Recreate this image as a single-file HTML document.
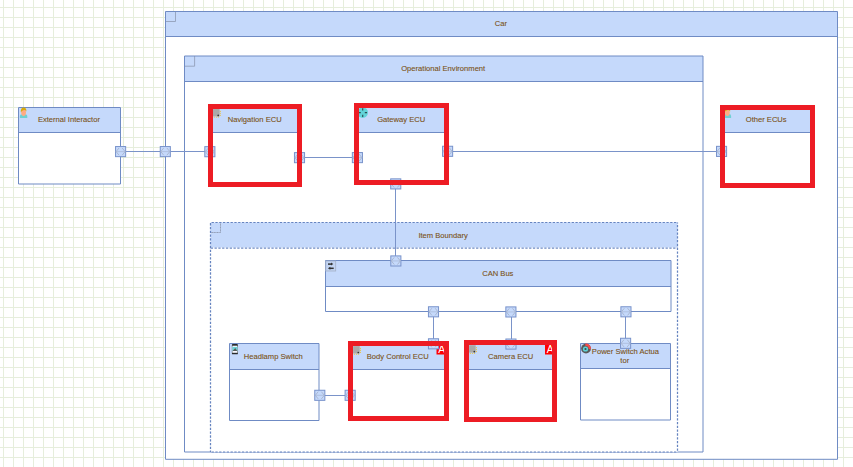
<!DOCTYPE html><html><head><meta charset="utf-8"><style>html,body{margin:0;padding:0;background:#fff;overflow:hidden}svg{display:block;font-family:"Liberation Sans",sans-serif}</style></head><body><svg width="853" height="467" viewBox="0 0 853 467" font-size="7.6" fill="#7a5216"><defs><pattern id="g" x="0" y="0" width="10" height="10" patternUnits="userSpaceOnUse"><rect x="3" y="0" width="1" height="10" fill="#e6eedc"/><rect x="0" y="7" width="10" height="1" fill="#e6eedc"/></pattern></defs><rect width="853" height="467" fill="#fff"/><rect width="853" height="467" fill="url(#g)"/><rect x="165.5" y="11.5" width="672.0" height="447.8" fill="#fff"/><rect x="165.5" y="11.5" width="672.0" height="25.0" fill="#c5d9fb"/><path d="M165.5 21.5H175.5V11.5" fill="none" stroke="#8d99b3" stroke-width="0.8"/><path d="M165.5 11.5H837.5V459.3H165.5Z" fill="none" stroke="#6f8bc4" stroke-width="1"/><path d="M165.5 36.5H837.5" stroke="#6f8bc4" stroke-width="1"/><text x="500.9" y="25.90" text-anchor="middle" stroke="#7a5216" stroke-width="0.18" stroke-opacity="0.6">Car</text><rect x="18.5" y="107.5" width="102.0" height="76.5" fill="#fff"/><rect x="18.5" y="107.5" width="102.0" height="25.0" fill="#c5d9fb"/><path d="M18.5 107.5H120.5V184H18.5Z" fill="none" stroke="#6f8bc4" stroke-width="1"/><path d="M18.5 132.5H120.5" stroke="#6f8bc4" stroke-width="1"/><text x="68.9" y="121.90" text-anchor="middle" stroke="#7a5216" stroke-width="0.18" stroke-opacity="0.6">External Interactor</text><path d="M19.9 118.0V116.0Q19.9 114.4 22.0 114.2H25.2Q27.3 114.4 27.3 116.0V118.0Z" fill="#6fd0d3"/><ellipse cx="23.6" cy="112.60000000000001" rx="2.4" ry="3.4" fill="#ffab82"/><path d="M20.8 112.2Q20.5 107.5 23.6 107.5Q26.6 107.5 26.4 111.60000000000001Q25.7 109.80000000000001 24.0 110.10000000000001Q22.1 110.4 20.8 112.2Z" fill="#d9a90a"/><rect x="184.5" y="56" width="518.5" height="396" fill="#fff"/><rect x="184.5" y="56" width="518.5" height="25.5" fill="#c5d9fb"/><path d="M184.5 66.2H194.6V56" fill="none" stroke="#8d99b3" stroke-width="0.8"/><path d="M184.5 56H703V452H184.5Z" fill="none" stroke="#6f8bc4" stroke-width="1"/><path d="M184.5 81.5H703" stroke="#6f8bc4" stroke-width="1"/><text x="443.2" y="70.70" text-anchor="middle" stroke="#7a5216" stroke-width="0.18" stroke-opacity="0.6">Operational Environment</text><rect x="210.5" y="222.5" width="467.0" height="229.5" fill="#fff"/><rect x="210.5" y="222.5" width="467.0" height="25.0" fill="#c5d9fb"/><path d="M210.5 232.5H220.5V222.5" fill="none" stroke="#7c8496" stroke-width="0.7" stroke-dasharray="1.2 0.4"/><path d="M210.5 222.5H677.5" fill="none" stroke="#6684c0" stroke-width="1.2" stroke-dasharray="2.3 1.49" stroke-dashoffset="2.69"/><path d="M210.5 222.5V452" fill="none" stroke="#6684c0" stroke-width="1.25" stroke-dasharray="2.3 1.49" stroke-dashoffset="3.19"/><path d="M677.5 222.5V452" fill="none" stroke="#6684c0" stroke-width="1.25" stroke-dasharray="2.3 1.49" stroke-dashoffset="1.39"/><path d="M210.5 452H677.5" fill="none" stroke="#6684c0" stroke-width="1.2" stroke-dasharray="2.3 1.49" stroke-dashoffset="2.7"/><path d="M210.5 248.0H677.5" fill="none" stroke="#6f8bc4" stroke-width="1.25" stroke-dasharray="2.3 1.49" stroke-dashoffset="3.54"/><text x="443.1" y="237.90" text-anchor="middle" stroke="#7a5216" stroke-width="0.18" stroke-opacity="0.6">Item Boundary</text><rect x="210.5" y="106.5" width="89.5" height="77.5" fill="#fff"/><rect x="210.5" y="106.5" width="89.5" height="26.0" fill="#c5d9fb"/><path d="M210.5 106.5H300V184H210.5Z" fill="none" stroke="#6f8bc4" stroke-width="1"/><path d="M210.5 132.5H300" stroke="#6f8bc4" stroke-width="1"/><text x="254.7" y="121.90" text-anchor="middle" stroke="#7a5216" stroke-width="0.18" stroke-opacity="0.6">Navigation ECU</text><rect x="213" y="109" width="6.6" height="7.4" fill="#aaaaaa"/><circle cx="220.3" cy="111.4" r="0.65" fill="#e8c44c"/><circle cx="220.3" cy="113.3" r="0.65" fill="#e8c44c"/><circle cx="220.3" cy="115.3" r="0.65" fill="#e8c44c"/><circle cx="214.3" cy="117.1" r="0.65" fill="#e8c44c"/><circle cx="216.4" cy="117.1" r="0.65" fill="#e8c44c"/><circle cx="218.4" cy="117.1" r="0.65" fill="#e8c44c"/><circle cx="218.2" cy="115.4" r="0.85" fill="#333"/><rect x="356.5" y="105.5" width="90.0" height="77.0" fill="#fff"/><rect x="356.5" y="105.5" width="90.0" height="27.0" fill="#c5d9fb"/><path d="M356.5 105.5H446.5V182.5H356.5Z" fill="none" stroke="#6f8bc4" stroke-width="1"/><path d="M356.5 132.5H446.5" stroke="#6f8bc4" stroke-width="1"/><text x="401.2" y="121.90" text-anchor="middle" stroke="#7a5216" stroke-width="0.18" stroke-opacity="0.6">Gateway ECU</text><circle cx="362.7" cy="112.6" r="5.3" fill="#62d4d9"/><path d="M362.7 108.2v2.2M362.7 114.8v2.3M358.6 112.6h2.2M364.8 112.6h2.2" stroke="#2e4f55" stroke-width="1.15"/><rect x="722.5" y="107.5" width="90.0" height="78.0" fill="#fff"/><rect x="722.5" y="107.5" width="90.0" height="25.0" fill="#c5d9fb"/><path d="M722.5 107.5H812.5V185.5H722.5Z" fill="none" stroke="#6f8bc4" stroke-width="1"/><path d="M722.5 132.5H812.5" stroke="#6f8bc4" stroke-width="1"/><text x="766.2" y="121.60" text-anchor="middle" stroke="#7a5216" stroke-width="0.18" stroke-opacity="0.6">Other ECUs</text><path d="M723.6999999999999 117.89999999999999V115.89999999999999Q723.6999999999999 114.3 725.8 114.1H729.0Q731.0999999999999 114.3 731.0999999999999 115.89999999999999V117.89999999999999Z" fill="#6fd0d3"/><ellipse cx="727.4" cy="112.5" rx="2.4" ry="3.4" fill="#ffab82"/><path d="M724.5999999999999 112.1Q724.3 107.39999999999999 727.4 107.39999999999999Q730.4 107.39999999999999 730.1999999999999 111.5Q729.5 109.7 727.8 110.0Q725.9 110.3 724.5999999999999 112.1Z" fill="#d9a90a"/><rect x="325.5" y="260.5" width="345.5" height="51.0" fill="#fff"/><rect x="325.5" y="260.5" width="345.5" height="26.0" fill="#c5d9fb"/><path d="M325.5 260.5H671V311.5H325.5Z" fill="none" stroke="#6f8bc4" stroke-width="1"/><path d="M325.5 286.5H671" stroke="#6f8bc4" stroke-width="1"/><text x="497.8" y="275.80" text-anchor="middle" stroke="#7a5216" stroke-width="0.18" stroke-opacity="0.6">CAN Bus</text><rect x="325.8" y="261" width="9.9" height="10" fill="#c2d4f3" stroke="#a4b0c6" stroke-width="0.8"/><path d="M328 264.1h3.6" stroke="#333" stroke-width="1.5"/><path d="M331 262.6L333.3 264.1L331 265.6Z" fill="#333"/><path d="M333.7 268.3h-3.8" stroke="#333" stroke-width="1.5"/><path d="M330.3 266.8L327.9 268.3L330.3 269.8Z" fill="#333"/><rect x="229.5" y="343.5" width="89.5" height="77.0" fill="#fff"/><rect x="229.5" y="343.5" width="89.5" height="26.0" fill="#c5d9fb"/><path d="M229.5 343.5H319V420.5H229.5Z" fill="none" stroke="#6f8bc4" stroke-width="1"/><path d="M229.5 369.5H319" stroke="#6f8bc4" stroke-width="1"/><text x="273.3" y="358.80" text-anchor="middle" stroke="#7a5216" stroke-width="0.18" stroke-opacity="0.6">Headlamp Switch</text><rect x="231.9" y="344.1" width="6" height="10.2" rx="0.9" fill="#2a2a2a"/><rect x="232.3" y="345.7" width="5.2" height="7.1" fill="#f6f9ff"/><rect x="232.3" y="346.9" width="5.2" height="4.1" fill="#6fd3d6"/><path d="M232.5 351L235.3 347.9L237.3 351Z" fill="#5a5a5a"/><rect x="350.5" y="343.5" width="96.0" height="75.0" fill="#fff"/><rect x="350.5" y="343.5" width="96.0" height="26.0" fill="#c5d9fb"/><path d="M350.5 343.5H446.5V418.5H350.5Z" fill="none" stroke="#6f8bc4" stroke-width="1"/><path d="M350.5 369.5H446.5" stroke="#6f8bc4" stroke-width="1"/><text x="397.8" y="358.70" text-anchor="middle" stroke="#7a5216" stroke-width="0.18" stroke-opacity="0.6">Body Control ECU</text><rect x="353.1" y="346.1" width="6.6" height="7.4" fill="#aaaaaa"/><circle cx="360.40000000000003" cy="348.5" r="0.65" fill="#e8c44c"/><circle cx="360.40000000000003" cy="350.40000000000003" r="0.65" fill="#e8c44c"/><circle cx="360.40000000000003" cy="352.40000000000003" r="0.65" fill="#e8c44c"/><circle cx="354.40000000000003" cy="354.20000000000005" r="0.65" fill="#e8c44c"/><circle cx="356.5" cy="354.20000000000005" r="0.65" fill="#e8c44c"/><circle cx="358.5" cy="354.20000000000005" r="0.65" fill="#e8c44c"/><circle cx="358.3" cy="352.5" r="0.85" fill="#333"/><rect x="436.5" y="344.5" width="10" height="10" fill="#f00"/><text x="441.8" y="353.3" text-anchor="middle" fill="#fff" font-size="10.4">A</text><rect x="466.5" y="342.5" width="88.0" height="77.0" fill="#fff"/><rect x="466.5" y="342.5" width="88.0" height="27.0" fill="#c5d9fb"/><path d="M466.5 342.5H554.5V419.5H466.5Z" fill="none" stroke="#6f8bc4" stroke-width="1"/><path d="M466.5 369.5H554.5" stroke="#6f8bc4" stroke-width="1"/><text x="510.7" y="358.90" text-anchor="middle" stroke="#7a5216" stroke-width="0.18" stroke-opacity="0.6">Camera ECU</text><rect x="469.1" y="345.2" width="6.6" height="7.4" fill="#aaaaaa"/><circle cx="476.40000000000003" cy="347.59999999999997" r="0.65" fill="#e8c44c"/><circle cx="476.40000000000003" cy="349.5" r="0.65" fill="#e8c44c"/><circle cx="476.40000000000003" cy="351.5" r="0.65" fill="#e8c44c"/><circle cx="470.40000000000003" cy="353.3" r="0.65" fill="#e8c44c"/><circle cx="472.5" cy="353.3" r="0.65" fill="#e8c44c"/><circle cx="474.5" cy="353.3" r="0.65" fill="#e8c44c"/><circle cx="474.3" cy="351.59999999999997" r="0.85" fill="#333"/><rect x="545" y="344.5" width="10" height="10" fill="#f00"/><text x="550.3" y="353.3" text-anchor="middle" fill="#fff" font-size="10.4">A</text><rect x="580.5" y="343.5" width="90.0" height="76.5" fill="#fff"/><rect x="580.5" y="343.5" width="90.0" height="25.0" fill="#c5d9fb"/><path d="M580.5 343.5H670.5V420H580.5Z" fill="none" stroke="#6f8bc4" stroke-width="1"/><path d="M580.5 368.5H670.5" stroke="#6f8bc4" stroke-width="1"/><text x="625.4" y="353.70" text-anchor="middle" stroke="#7a5216" stroke-width="0.18" stroke-opacity="0.6">Power Switch Actua</text><text x="624.8" y="362.50" text-anchor="middle" stroke="#7a5216" stroke-width="0.18" stroke-opacity="0.6">tor</text><circle cx="586" cy="348.6" r="4.9" fill="#5a5a5a"/><path d="M585.13 343.68A5.0 5.0 0 0 1 590.95 349.30L588.67 348.98A2.7 2.7 0 0 0 585.53 345.94Z" fill="#f44b4b"/><circle cx="585.5" cy="349" r="2.6" fill="#5fd2d6"/><circle cx="585.5" cy="349" r="1.1" fill="#3c4b55"/><path d="M120 151.5H210M300 157.5H357M448 151.5H722M395.5 184V261M433.5 312V344M511.5 312V344M625.5 312V343M320 395.5H350" stroke="#7a93c9" stroke-width="1"/><rect x="115.55" y="146.55" width="10.1" height="10.1" fill="#c5d9fb" stroke="#7892ca" stroke-width="1"/><path d="M116.10 151.60H125.10" stroke="#b0c0e0" stroke-width="1"/><path d="M119.00 148.00L116.10 151.60L119.00 155.20M122.20 148.00L125.10 151.60L122.20 155.20" fill="none" stroke="#a3afc6" stroke-width="0.8"/><rect x="160.25" y="146.55" width="10.1" height="10.1" fill="#c5d9fb" stroke="#7892ca" stroke-width="1"/><path d="M160.80 151.60H169.80" stroke="#b0c0e0" stroke-width="1"/><path d="M163.70 148.00L160.80 151.60L163.70 155.20M166.90 148.00L169.80 151.60L166.90 155.20" fill="none" stroke="#a3afc6" stroke-width="0.8"/><rect x="204.80" y="146.65" width="10.1" height="10.1" fill="#c5d9fb" stroke="#7892ca" stroke-width="1"/><path d="M205.35 151.70H214.35" stroke="#b0c0e0" stroke-width="1"/><path d="M208.25 148.10L205.35 151.70L208.25 155.30M211.45 148.10L214.35 151.70L211.45 155.30" fill="none" stroke="#a3afc6" stroke-width="0.8"/><rect x="294.45" y="152.60" width="10.1" height="10.1" fill="#c5d9fb" stroke="#7892ca" stroke-width="1"/><path d="M295.00 157.65H304.00" stroke="#b0c0e0" stroke-width="1"/><path d="M297.90 154.05L295.00 157.65L297.90 161.25M301.10 154.05L304.00 157.65L301.10 161.25" fill="none" stroke="#a3afc6" stroke-width="0.8"/><rect x="352.35" y="152.55" width="10.1" height="10.1" fill="#c5d9fb" stroke="#7892ca" stroke-width="1"/><path d="M352.90 157.60H361.90" stroke="#b0c0e0" stroke-width="1"/><path d="M355.80 154.00L352.90 157.60L355.80 161.20M359.00 154.00L361.90 157.60L359.00 161.20" fill="none" stroke="#a3afc6" stroke-width="0.8"/><rect x="442.55" y="146.25" width="10.1" height="10.1" fill="#c5d9fb" stroke="#7892ca" stroke-width="1"/><path d="M443.10 151.30H452.10" stroke="#b0c0e0" stroke-width="1"/><path d="M446.00 147.70L443.10 151.30L446.00 154.90M449.20 147.70L452.10 151.30L449.20 154.90" fill="none" stroke="#a3afc6" stroke-width="0.8"/><rect x="716.50" y="146.35" width="10.1" height="10.1" fill="#c5d9fb" stroke="#7892ca" stroke-width="1"/><path d="M717.05 151.40H726.05" stroke="#b0c0e0" stroke-width="1"/><path d="M719.95 147.80L717.05 151.40L719.95 155.00M723.15 147.80L726.05 151.40L723.15 155.00" fill="none" stroke="#a3afc6" stroke-width="0.8"/><rect x="390.70" y="178.85" width="10.1" height="10.1" fill="#c5d9fb" stroke="#7892ca" stroke-width="1"/><path d="M391.25 183.90H400.25" stroke="#b0c0e0" stroke-width="1"/><path d="M394.15 180.30L391.25 183.90L394.15 187.50M397.35 180.30L400.25 183.90L397.35 187.50" fill="none" stroke="#a3afc6" stroke-width="0.8"/><rect x="390.80" y="255.90" width="10.1" height="10.1" fill="#c5d9fb" stroke="#7892ca" stroke-width="1"/><path d="M391.35 260.95H400.35" stroke="#b0c0e0" stroke-width="1"/><path d="M394.25 257.35L391.35 260.95L394.25 264.55M397.45 257.35L400.35 260.95L397.45 264.55" fill="none" stroke="#a3afc6" stroke-width="0.8"/><rect x="428.45" y="306.75" width="10.1" height="10.1" fill="#c5d9fb" stroke="#7892ca" stroke-width="1"/><path d="M429.00 311.80H438.00" stroke="#b0c0e0" stroke-width="1"/><path d="M431.90 308.20L429.00 311.80L431.90 315.40M435.10 308.20L438.00 311.80L435.10 315.40" fill="none" stroke="#a3afc6" stroke-width="0.8"/><rect x="505.85" y="306.90" width="10.1" height="10.1" fill="#c5d9fb" stroke="#7892ca" stroke-width="1"/><path d="M506.40 311.95H515.40" stroke="#b0c0e0" stroke-width="1"/><path d="M509.30 308.35L506.40 311.95L509.30 315.55M512.50 308.35L515.40 311.95L512.50 315.55" fill="none" stroke="#a3afc6" stroke-width="0.8"/><rect x="620.90" y="306.75" width="10.1" height="10.1" fill="#c5d9fb" stroke="#7892ca" stroke-width="1"/><path d="M621.45 311.80H630.45" stroke="#b0c0e0" stroke-width="1"/><path d="M624.35 308.20L621.45 311.80L624.35 315.40M627.55 308.20L630.45 311.80L627.55 315.40" fill="none" stroke="#a3afc6" stroke-width="0.8"/><rect x="428.45" y="338.75" width="10.1" height="10.1" fill="#c5d9fb" stroke="#7892ca" stroke-width="1"/><path d="M429.00 343.80H438.00" stroke="#b0c0e0" stroke-width="1"/><path d="M431.90 340.20L429.00 343.80L431.90 347.40M435.10 340.20L438.00 343.80L435.10 347.40" fill="none" stroke="#a3afc6" stroke-width="0.8"/><rect x="505.90" y="339.00" width="10.1" height="10.1" fill="#c5d9fb" stroke="#7892ca" stroke-width="1"/><path d="M506.45 344.05H515.45" stroke="#b0c0e0" stroke-width="1"/><path d="M509.35 340.45L506.45 344.05L509.35 347.65M512.55 340.45L515.45 344.05L512.55 347.65" fill="none" stroke="#a3afc6" stroke-width="0.8"/><rect x="620.55" y="338.25" width="10.1" height="10.1" fill="#c5d9fb" stroke="#7892ca" stroke-width="1"/><path d="M621.10 343.30H630.10" stroke="#b0c0e0" stroke-width="1"/><path d="M624.00 339.70L621.10 343.30L624.00 346.90M627.20 339.70L630.10 343.30L627.20 346.90" fill="none" stroke="#a3afc6" stroke-width="0.8"/><rect x="314.75" y="390.25" width="10.1" height="10.1" fill="#c5d9fb" stroke="#7892ca" stroke-width="1"/><path d="M315.30 395.30H324.30" stroke="#b0c0e0" stroke-width="1"/><path d="M318.20 391.70L315.30 395.30L318.20 398.90M321.40 391.70L324.30 395.30L321.40 398.90" fill="none" stroke="#a3afc6" stroke-width="0.8"/><rect x="345.10" y="390.25" width="10.1" height="10.1" fill="#c5d9fb" stroke="#7892ca" stroke-width="1"/><path d="M345.65 395.30H354.65" stroke="#b0c0e0" stroke-width="1"/><path d="M348.55 391.70L345.65 395.30L348.55 398.90M351.75 391.70L354.65 395.30L351.75 398.90" fill="none" stroke="#a3afc6" stroke-width="0.8"/><rect x="210.5" y="106.5" width="89.0" height="78.0" fill="none" stroke="#ed1c24" stroke-width="5"/><rect x="356.5" y="105.5" width="90.0" height="77.0" fill="none" stroke="#ed1c24" stroke-width="5"/><rect x="722.5" y="107.5" width="90.0" height="78.0" fill="none" stroke="#ed1c24" stroke-width="5"/><rect x="350.5" y="343.5" width="96.0" height="75.0" fill="none" stroke="#ed1c24" stroke-width="5"/><rect x="466.5" y="342.5" width="88.0" height="77.0" fill="none" stroke="#ed1c24" stroke-width="5"/></svg></body></html>
